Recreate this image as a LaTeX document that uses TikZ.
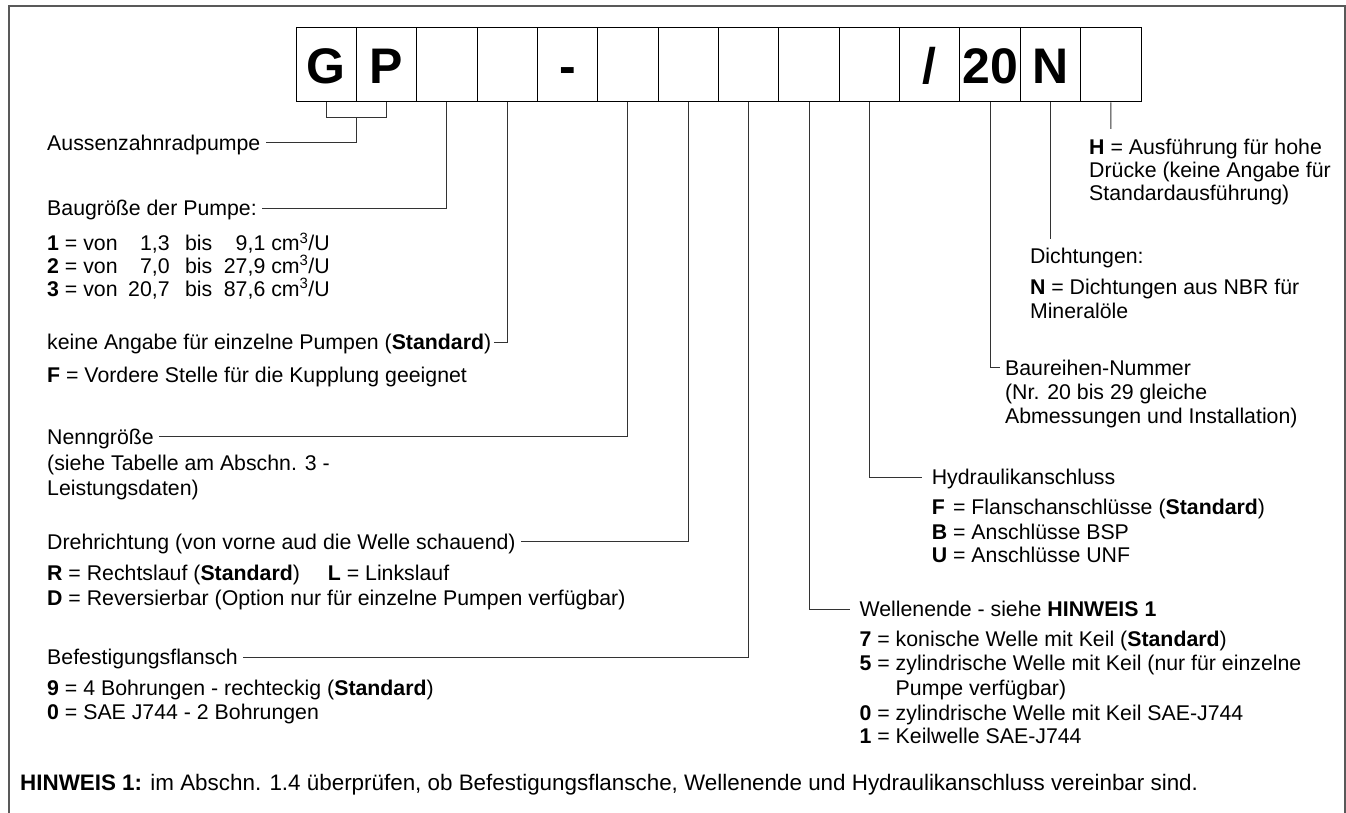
\documentclass[tikz,border=0pt]{standalone}
\usepackage{fontspec}
\setmainfont{Liberation Sans}
\begin{document}
\begin{tikzpicture}[x=1pt,y=-1pt,
  cell/.style={draw=black,line width=1pt,minimum width=60.36pt,minimum height=74.7pt,inner sep=0pt,text height=37.2pt,text depth=0pt,font=\fontsize{50}{50}\selectfont\bfseries},
  tx/.style={anchor=west,inner sep=0pt,text height=15pt,text depth=0pt,font=\fontsize{21.3}{24}\selectfont},
  conn/.style={draw=black!80,line width=1pt},
  frame/.style={draw=black!65,line width=2pt}]
\useasboundingbox (0,0) rectangle (1346,813);
% frame (open at the bottom)
\draw[frame] (8.7,813) -- (8.7,5.7) -- (1344.5,5.7) -- (1344.5,813);
% code boxes
\foreach \i/\t in {1/G,2/P,3/{},4/{},5/-,6/{},7/{},8/{},9/{},10/{},11/{/},12/20,13/N,14/{}}
  \node[cell] (B\i) at ({296+60.36*(\i-0.5)},64.65) {\t};
% left column texts
\node[tx] (aus) at (47,142.7) {Aussenzahnradpumpe};
\node[tx] (bau) at (47,208.3) {Baugröße der Pumpe:};
\node[tx] (s1) at (47,243.3) {\textbf{1} = von\makebox[52pt][r]{1,3}\hspace{15.5pt}bis\makebox[53pt][r]{9,1} cm\textsuperscript{3}/U};
\node[tx] (s2) at (47,266) {\textbf{2} = von\makebox[52pt][r]{7,0}\hspace{15.5pt}bis\makebox[53pt][r]{27,9} cm\textsuperscript{3}/U};
\node[tx] (s3) at (47,288.7) {\textbf{3} = von\makebox[52pt][r]{20,7}\hspace{15.5pt}bis\makebox[53pt][r]{87,6} cm\textsuperscript{3}/U};
\node[tx] (keine) at (47,342.3) {keine Angabe für einzelne Pumpen (\textbf{Standard})};
\node[tx] (kf) at (47,375) {\textbf{F} = Vordere Stelle für die Kupplung geeignet};
\node[tx] (nenn) at (47,436.7) {Nenngröße};
\node[tx] (n1) at (47,463.3) {(siehe Tabelle am Abschn. 3 -};
\node[tx] (n2) at (47,488.3) {Leistungsdaten)};
\node[tx] (dreh) at (47,541.7) {Drehrichtung (von vorne aud die Welle schauend)};
\node[tx] (d1) at (47,573.3) {\textbf{R} = Rechtslauf (\textbf{Standard})\hspace{28pt}\textbf{L} = Linkslauf};
\node[tx] (d2) at (47,598.3) {\textbf{D} = Reversierbar (Option nur für einzelne Pumpen verfügbar)};
\node[tx] (bef) at (47,657.3) {Befestigungsflansch};
\node[tx] (b1) at (47,688.3) {\textbf{9} = 4 Bohrungen - rechteckig (\textbf{Standard})};
\node[tx] (b2) at (47,711.7) {\textbf{0} = SAE J744 - 2 Bohrungen};
% right column texts
\node[tx] (h1) at (1089,146.7) {\textbf{H} = Ausführung für hohe};
\node[tx] (h2) at (1089,170) {Drücke (keine Angabe für};
\node[tx] (h3) at (1089,193.3) {Standardausführung)};
\node[tx] (dich) at (1029.8,256) {Dichtungen:};
\node[tx] (dn1) at (1029.8,286.7) {\textbf{N} = Dichtungen aus NBR für};
\node[tx] (dn2) at (1029.8,310.7) {Mineralöle};
\node[tx] (baur) at (1004.9,367.7) {Baureihen-Nummer};
\node[tx] (br1) at (1004.9,391.7) {(Nr. 20 bis 29 gleiche};
\node[tx] (br2) at (1004.9,416) {Abmessungen und Installation)};
\node[tx] (hyd) at (931.6,477.3) {Hydraulikanschluss};
\node[tx] (hy1) at (931.6,507.3) {\makebox[15.4pt][l]{\textbf{F}} = Flanschanschlüsse (\textbf{Standard})};
\node[tx] (hy2) at (931.6,531.7) {\makebox[15.4pt][l]{\textbf{B}} = Anschlüsse BSP};
\node[tx] (hy3) at (931.6,555) {\makebox[15.4pt][l]{\textbf{U}} = Anschlüsse UNF};
\node[tx] (well) at (859.4,609.3) {Wellenende - siehe \textbf{HINWEIS 1}};
\node[tx] (w1) at (859.4,639.3) {\textbf{7} = konische Welle mit Keil (\textbf{Standard})};
\node[tx] (w2) at (859.4,663.3) {\textbf{5} = zylindrische Welle mit Keil (nur für einzelne};
\node[tx] (w2b) at (895.5,688.3) {Pumpe verfügbar)};
\node[tx] (w3) at (859.4,712.7) {\textbf{0} = zylindrische Welle mit Keil SAE-J744};
\node[tx] (w4) at (859.4,736) {\textbf{1} = Keilwelle SAE-J744};
\node[tx,font=\fontsize{22.4}{25}\selectfont] (hin) at (20,783) {\textbf{HINWEIS 1:} im Abschn. 1.4 überprüfen, ob Befestigungsflansche, Wellenende und Hydraulikanschluss vereinbar sind.};
% connectors
\coordinate (gp) at (356.36,117.3);
\draw[conn] (B1.south) |- (gp) -| (B2.south);
\draw[conn] (gp) |- ([xshift=5pt]aus.east);
\draw[conn] (B3.south) |- ([xshift=5pt]bau.east);
\draw[conn] (B4.south) |- ([xshift=3pt]keine.east);
\draw[conn] (B6.south) |- ([xshift=5pt]nenn.east);
\draw[conn] (B7.south) |- ([xshift=5pt]dreh.east);
\draw[conn] (B8.south) |- ([xshift=5pt]bef.east);
\draw[conn] (B9.south) |- ([xshift=-9pt]well.west);
\draw[conn] (B10.south) |- ([xshift=-10pt]hyd.west);
\draw[conn] (B12.south) |- ([xshift=-5.4pt]baur.west);
\coordinate (nend) at (1050.5,239.3);
\draw[conn] (B13.south) -- (nend);
\coordinate (hend) at (1110.9,129);
\draw[conn] (B14.south) -- (hend);
\end{tikzpicture}
\end{document}
